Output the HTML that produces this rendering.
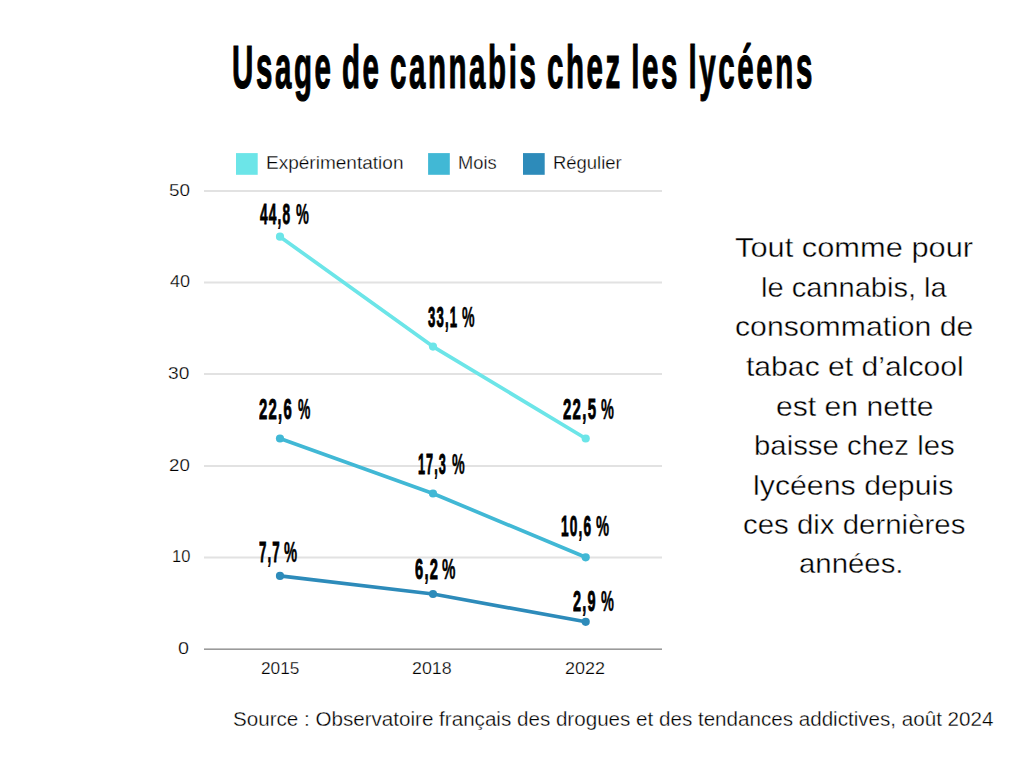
<!DOCTYPE html>
<html><head><meta charset="utf-8"><style>
html,body{margin:0;padding:0;background:#fff;width:1024px;height:768px;overflow:hidden;position:relative}
.t{position:absolute;white-space:nowrap;font-family:"Liberation Sans",sans-serif;line-height:1;transform-origin:0 0}
</style></head><body>
<svg width="1024" height="768" style="position:absolute;left:0;top:0">
<rect x="204" y="190.0" width="458" height="2" fill="#E2E2E2"/>
<rect x="204" y="281.5" width="458" height="2" fill="#E2E2E2"/>
<rect x="204" y="373.0" width="458" height="2" fill="#E2E2E2"/>
<rect x="204" y="465.0" width="458" height="2" fill="#E2E2E2"/>
<rect x="204" y="556.5" width="458" height="2" fill="#E2E2E2"/>
<rect x="204" y="648.4" width="458" height="1.6" fill="#9A9A9A"/>
<polyline points="280,236.7 433,346.6 585.7,438.5" fill="none" stroke="#6CE5E8" stroke-width="3.7" stroke-linejoin="round"/>
<circle cx="280" cy="236.7" r="4.1" fill="#6CE5E8"/>
<circle cx="433" cy="346.6" r="4.1" fill="#6CE5E8"/>
<circle cx="585.7" cy="438.5" r="4.1" fill="#6CE5E8"/>
<polyline points="280,438.5 433,493.5 585.7,557.3" fill="none" stroke="#41B8D5" stroke-width="3.7" stroke-linejoin="round"/>
<circle cx="280" cy="438.5" r="4.1" fill="#41B8D5"/>
<circle cx="433" cy="493.5" r="4.1" fill="#41B8D5"/>
<circle cx="585.7" cy="557.3" r="4.1" fill="#41B8D5"/>
<polyline points="280,575.9 433,594 585.7,621.8" fill="none" stroke="#2D8BBA" stroke-width="3.7" stroke-linejoin="round"/>
<circle cx="280" cy="575.9" r="4.1" fill="#2D8BBA"/>
<circle cx="433" cy="594" r="4.1" fill="#2D8BBA"/>
<circle cx="585.7" cy="621.8" r="4.1" fill="#2D8BBA"/>
<rect x="236" y="153.1" width="21.7" height="21.7" fill="#6CE5E8"/>
<rect x="428.1" y="153.1" width="21.7" height="21.7" fill="#41B8D5"/>
<rect x="523" y="153.1" width="21.7" height="21.7" fill="#2D8BBA"/>
</svg>
<div class="t" style="left:231.90px;top:35.60px;font-size:62px;font-weight:700;color:#000;letter-spacing:5.5px;word-spacing:-5px;transform:scaleX(0.4751);-webkit-text-stroke:1.2px #000">Usage de cannabis chez les lycéens</div>
<div class="t" style="left:265.80px;top:153.10px;font-size:19.0px;font-weight:400;color:#000;letter-spacing:0px;word-spacing:0px;transform:scaleX(1.0015);-webkit-text-stroke:0.3px #fff">Expérimentation</div>
<div class="t" style="left:457.64px;top:153.10px;font-size:19.0px;font-weight:400;color:#000;letter-spacing:0px;word-spacing:0px;transform:scaleX(0.9615);-webkit-text-stroke:0.3px #fff">Mois</div>
<div class="t" style="left:552.53px;top:153.10px;font-size:19.0px;font-weight:400;color:#000;letter-spacing:0px;word-spacing:0px;transform:scaleX(0.9714);-webkit-text-stroke:0.3px #fff">Régulier</div>
<div class="t" style="left:232.74px;top:709.80px;font-size:19.5px;font-weight:400;color:#000;letter-spacing:0px;word-spacing:0px;transform:scaleX(1.0565);-webkit-text-stroke:0.3px #fff">Source : Observatoire français des drogues et des tendances addictives, août 2024</div>
<div class="t" style="left:735.22px;top:233.00px;font-size:28.5px;font-weight:400;color:#000;letter-spacing:0px;word-spacing:0px;transform:scaleX(1.0813);-webkit-text-stroke:0.4px #fff">Tout comme pour</div>
<div class="t" style="left:760.66px;top:272.70px;font-size:28.5px;font-weight:400;color:#000;letter-spacing:0px;word-spacing:0px;transform:scaleX(1.0194);-webkit-text-stroke:0.4px #fff">le cannabis, la</div>
<div class="t" style="left:735.24px;top:311.70px;font-size:28.5px;font-weight:400;color:#000;letter-spacing:0px;word-spacing:0px;transform:scaleX(1.0596);-webkit-text-stroke:0.4px #fff">consommation de</div>
<div class="t" style="left:746.40px;top:351.60px;font-size:28.5px;font-weight:400;color:#000;letter-spacing:0px;word-spacing:0px;transform:scaleX(1.0569);-webkit-text-stroke:0.4px #fff">tabac et d’alcool</div>
<div class="t" style="left:775.64px;top:391.70px;font-size:28.5px;font-weight:400;color:#000;letter-spacing:0px;word-spacing:0px;transform:scaleX(1.0578);-webkit-text-stroke:0.4px #fff">est en nette</div>
<div class="t" style="left:753.54px;top:430.70px;font-size:28.5px;font-weight:400;color:#000;letter-spacing:0px;word-spacing:0px;transform:scaleX(1.0297);-webkit-text-stroke:0.4px #fff">baisse chez les</div>
<div class="t" style="left:753.47px;top:470.50px;font-size:28.5px;font-weight:400;color:#000;letter-spacing:0px;word-spacing:0px;transform:scaleX(1.0629);-webkit-text-stroke:0.4px #fff">lycéens depuis</div>
<div class="t" style="left:743.27px;top:510.10px;font-size:28.5px;font-weight:400;color:#000;letter-spacing:0px;word-spacing:0px;transform:scaleX(1.0322);-webkit-text-stroke:0.4px #fff">ces dix dernières</div>
<div class="t" style="left:799.37px;top:549.10px;font-size:28.5px;font-weight:400;color:#000;letter-spacing:0px;word-spacing:0px;transform:scaleX(1.0306);-webkit-text-stroke:0.4px #fff">années.</div>
<div class="t" style="left:260.00px;top:200.20px;font-size:29px;font-weight:700;color:#000;letter-spacing:2.5px;word-spacing:0px;transform:scaleX(0.4714);-webkit-text-stroke:0.9px #000">44,8</div>
<div class="t" style="left:295.50px;top:200.20px;font-size:29px;font-weight:700;color:#000;letter-spacing:0px;word-spacing:0px;transform:scaleX(0.5000);-webkit-text-stroke:0.5px #000">%</div>
<div class="t" style="left:427.65px;top:303.10px;font-size:29px;font-weight:700;color:#000;letter-spacing:2.5px;word-spacing:0px;transform:scaleX(0.4532);-webkit-text-stroke:0.9px #000">33,1</div>
<div class="t" style="left:462.01px;top:303.10px;font-size:29px;font-weight:700;color:#000;letter-spacing:0px;word-spacing:0px;transform:scaleX(0.4875);-webkit-text-stroke:0.5px #000">%</div>
<div class="t" style="left:562.68px;top:395.10px;font-size:29px;font-weight:700;color:#000;letter-spacing:2.5px;word-spacing:0px;transform:scaleX(0.5161);-webkit-text-stroke:0.9px #000">22,5</div>
<div class="t" style="left:600.50px;top:395.10px;font-size:29px;font-weight:700;color:#000;letter-spacing:0px;word-spacing:0px;transform:scaleX(0.5000);-webkit-text-stroke:0.5px #000">%</div>
<div class="t" style="left:259.49px;top:395.00px;font-size:29px;font-weight:700;color:#000;letter-spacing:2.5px;word-spacing:0px;transform:scaleX(0.5129);-webkit-text-stroke:0.9px #000">22,6</div>
<div class="t" style="left:298.12px;top:395.00px;font-size:29px;font-weight:700;color:#000;letter-spacing:0px;word-spacing:0px;transform:scaleX(0.4792);-webkit-text-stroke:0.5px #000">%</div>
<div class="t" style="left:418.43px;top:450.00px;font-size:29px;font-weight:700;color:#000;letter-spacing:2.5px;word-spacing:0px;transform:scaleX(0.4361);-webkit-text-stroke:0.9px #000">17,3</div>
<div class="t" style="left:452.21px;top:450.00px;font-size:29px;font-weight:700;color:#000;letter-spacing:0px;word-spacing:0px;transform:scaleX(0.4917);-webkit-text-stroke:0.5px #000">%</div>
<div class="t" style="left:561.06px;top:512.00px;font-size:29px;font-weight:700;color:#000;letter-spacing:2.5px;word-spacing:0px;transform:scaleX(0.4721);-webkit-text-stroke:0.9px #000">10,6</div>
<div class="t" style="left:595.69px;top:512.00px;font-size:29px;font-weight:700;color:#000;letter-spacing:0px;word-spacing:0px;transform:scaleX(0.5083);-webkit-text-stroke:0.5px #000">%</div>
<div class="t" style="left:258.84px;top:538.00px;font-size:29px;font-weight:700;color:#000;letter-spacing:2.5px;word-spacing:0px;transform:scaleX(0.4581);-webkit-text-stroke:0.9px #000">7,7</div>
<div class="t" style="left:283.89px;top:538.00px;font-size:29px;font-weight:700;color:#000;letter-spacing:0px;word-spacing:0px;transform:scaleX(0.5083);-webkit-text-stroke:0.5px #000">%</div>
<div class="t" style="left:415.09px;top:555.10px;font-size:29px;font-weight:700;color:#000;letter-spacing:2.5px;word-spacing:0px;transform:scaleX(0.5070);-webkit-text-stroke:0.9px #000">6,2</div>
<div class="t" style="left:442.48px;top:555.10px;font-size:29px;font-weight:700;color:#000;letter-spacing:0px;word-spacing:0px;transform:scaleX(0.5208);-webkit-text-stroke:0.5px #000">%</div>
<div class="t" style="left:572.70px;top:587.00px;font-size:29px;font-weight:700;color:#000;letter-spacing:2.5px;word-spacing:0px;transform:scaleX(0.5000);-webkit-text-stroke:0.9px #000">2,9</div>
<div class="t" style="left:600.50px;top:587.00px;font-size:29px;font-weight:700;color:#000;letter-spacing:0px;word-spacing:0px;transform:scaleX(0.5000);-webkit-text-stroke:0.5px #000">%</div>
<div class="t" style="left:168.84px;top:181.60px;font-size:16.3px;color:#000;-webkit-text-stroke:0.25px #fff;transform:scaleX(1.1588)">50</div>
<div class="t" style="left:169.50px;top:273.10px;font-size:16.3px;color:#000;-webkit-text-stroke:0.25px #fff;transform:scaleX(1.1111)">40</div>
<div class="t" style="left:168.32px;top:364.60px;font-size:16.3px;color:#000;-webkit-text-stroke:0.25px #fff;transform:scaleX(1.1765)">30</div>
<div class="t" style="left:169.45px;top:456.60px;font-size:16.3px;color:#000;-webkit-text-stroke:0.25px #fff;transform:scaleX(1.1471)">20</div>
<div class="t" style="left:171.79px;top:548.10px;font-size:16.3px;color:#000;-webkit-text-stroke:0.25px #fff;transform:scaleX(1.0118)">10</div>
<div class="t" style="left:178.29px;top:639.90px;font-size:16.3px;color:#000;-webkit-text-stroke:0.25px #fff;transform:scaleX(1.2125)">0</div>
<div class="t" style="left:260.54px;top:659.70px;font-size:16.3px;color:#000;-webkit-text-stroke:0.25px #fff;transform:scaleX(1.0614)">2015</div>
<div class="t" style="left:412.21px;top:659.70px;font-size:16.3px;color:#000;-webkit-text-stroke:0.25px #fff;transform:scaleX(1.0943)">2018</div>
<div class="t" style="left:565.39px;top:659.70px;font-size:16.3px;color:#000;-webkit-text-stroke:0.25px #fff;transform:scaleX(1.1057)">2022</div>
</body></html>
